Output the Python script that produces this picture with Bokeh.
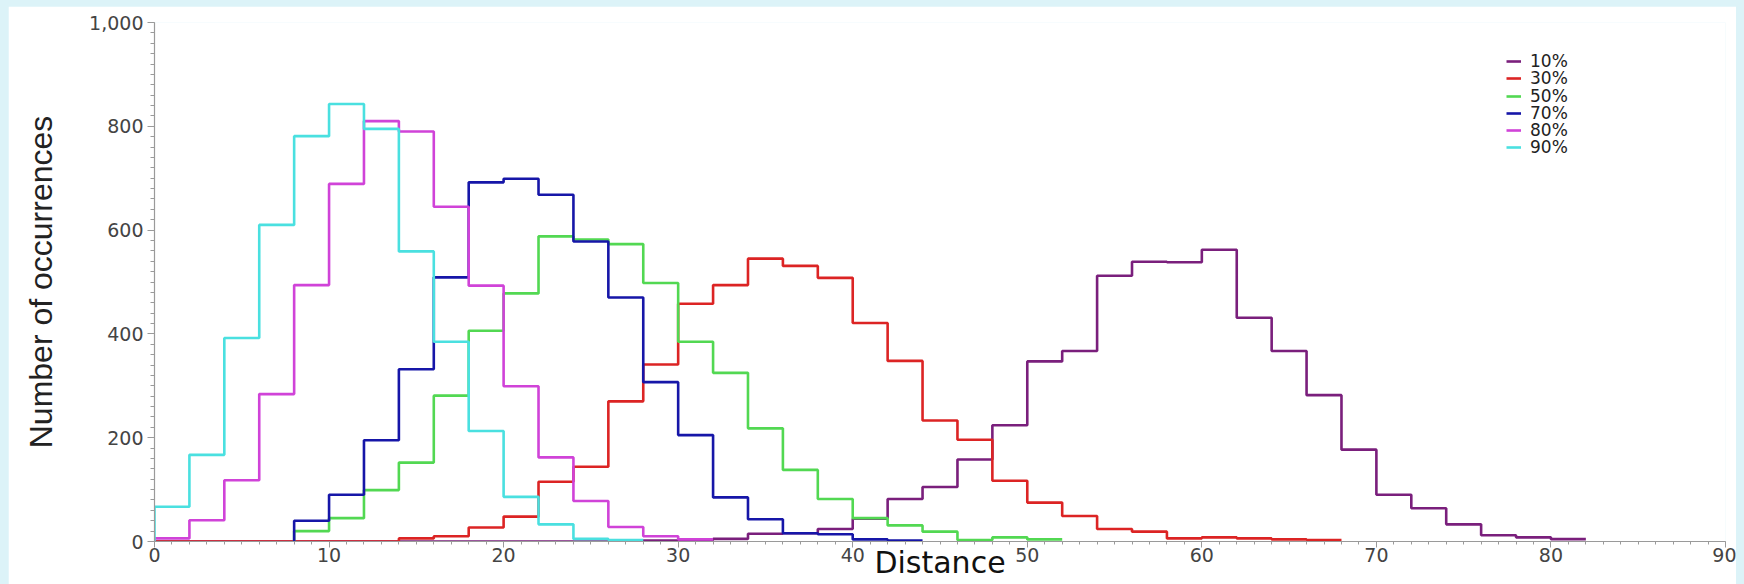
import re

from bokeh.embed import file_html
from bokeh.models import FixedTicker, Legend, LegendItem, NumeralTickFormatter, Range1d
from bokeh.plotting import figure
from bokeh.resources import INLINE

# Histogram counts per distance bin (bin width 2), one list per series
bin_width = 2
series_labels = ["10%", "30%", "50%", "70%", "80%", "90%"]
series_colors = ["#7a1f7c", "#dc2424", "#52d852", "#1616a8", "#d043d8", "#4ae0e0"]

start_10 = 0
counts_10 = [0, 0, 0, 0, 0, 0, 0, 0, 0, 0, 0, 0, 0,
             1, 2, 3, 5, 15, 16, 24, 44, 82, 105, 158, 224, 347, 367,
             512, 539, 538, 562, 431, 367, 282, 177, 90, 64, 33, 12, 8, 4.5]

start_30 = 0
counts_30 = [0, 0, 0, 0, 0, 0, 0,
             6, 10, 27, 48, 115, 144, 270, 341, 458, 494, 545, 531, 508,
             421, 348, 233, 196, 117, 75, 49, 24, 19, 6, 8, 6, 4, 3]

start_50 = 8
counts_50 = [20, 45, 99, 152, 281, 406, 478, 588, 582, 573, 498,
             385, 325, 218, 138, 82, 45, 31, 19, 3, 8, 4]

start_70 = 8
counts_70 = [40, 90, 195, 332, 509, 692, 699, 668, 578, 470, 307,
             205, 85, 43, 16, 14, 4, 2]

start_80 = 0
counts_80 = [6, 41, 118, 284, 494, 689, 810, 790, 645, 493, 299,
             162, 78, 28, 10, 4]

start_90 = 0
counts_90 = [67, 167, 392, 610, 781, 843, 795, 559, 385, 213, 86, 33, 5, 3]

series_starts = [start_10, start_30, start_50, start_70, start_80, start_90]
series_counts = [counts_10, counts_30, counts_50, counts_70, counts_80, counts_90]

x_major = list(range(0, 91, 10))
x_minor = list(range(0, 91, 1))
y_major = list(range(0, 1001, 200))
y_minor = list(range(0, 1001, 20))

BG = "#dcf3f8"
AXIS_GRAY = "#9a9a9a"
TICK_FONT = "DejaVu Sans"

p = figure(
    width=1728, height=578,
    margin=(6, 8, 0, 8),
    x_range=Range1d(0, 90), y_range=Range1d(0, 1000),
    output_backend="svg", toolbar_location=None,
    min_border_left=146, min_border_right=11,
    min_border_top=16, min_border_bottom=43,
    background_fill_color="white", border_fill_color="white",
)
p.outline_line_color = None
p.xgrid.visible = False
p.ygrid.visible = False


def histogram_outline(start, counts):
    """Step outline of a histogram: rise from zero at the first edge,
    then hold each bin's count across its width."""
    xs = [start] + [start + i * bin_width for i in range(len(counts) + 1)]
    ys = [0] + list(counts) + [counts[-1]]
    return xs, ys


renderers = []
for start, counts, color in zip(series_starts, series_counts, series_colors):
    xs, ys = histogram_outline(start, counts)
    r = p.step(xs, ys, mode="after", line_color=color, line_width=2.6)
    renderers.append(r)

# Axes
for ax in (p.xaxis[0], p.yaxis[0]):
    ax.axis_line_color = AXIS_GRAY
    ax.axis_line_width = 1.2
    ax.major_tick_line_color = AXIS_GRAY
    ax.minor_tick_line_color = AXIS_GRAY
    ax.major_tick_in = 0
    ax.minor_tick_in = 0
    ax.major_label_text_font = TICK_FONT
    ax.major_label_text_font_size = "19px"
    ax.major_label_text_color = "#444444"
    ax.axis_label_text_font_style = "normal"

p.xaxis.ticker = FixedTicker(ticks=x_major, minor_ticks=x_minor)
p.xaxis.major_tick_out = 6
p.xaxis.minor_tick_out = 3
p.xaxis.major_label_standoff = 0
p.xaxis.axis_label = "Distance"
p.xaxis.axis_label_text_font = "DejaVu Sans"
p.xaxis.axis_label_text_font_size = "30px"
p.xaxis.axis_label_text_color = "#111111"
p.xaxis.axis_label_standoff = -20

p.yaxis.ticker = FixedTicker(ticks=y_major, minor_ticks=y_minor)
p.yaxis.formatter = NumeralTickFormatter(format="0,0")
p.yaxis.major_tick_out = 7
p.yaxis.minor_tick_out = 4
p.yaxis.major_label_standoff = 4
p.yaxis.axis_label = "Number of occurrences"
p.yaxis.axis_label_text_font = "Liberation Sans"
p.yaxis.axis_label_text_font_size = "32px"
p.yaxis.axis_label_text_color = "#222222"
p.yaxis.axis_label_standoff = 27

# Legend: one single-entry legend per row so rows can sit closer together
# than the text height would otherwise allow.
LEGEND_LEFT = 1352        # px from the left edge of the plot frame
LEGEND_FIRST_ROW = 480    # px from the bottom of the plot frame (row centre)
LEGEND_ROW_STEP = 17.3
LEGEND_FONT_PX = 17
row_box = 20              # approximate rendered height of one entry
for i, (lab, r) in enumerate(zip(series_labels, renderers)):
    centre = LEGEND_FIRST_ROW - i * LEGEND_ROW_STEP
    lg = Legend(
        items=[LegendItem(label=lab, renderers=[r])],
        location=(LEGEND_LEFT, int(round(centre - row_box / 2))),
        orientation="vertical",
        padding=0, spacing=0, margin=0,
        glyph_width=15, glyph_height=row_box, label_height=row_box,
        label_standoff=9,
        label_text_font=TICK_FONT, label_text_font_size="%dpx" % LEGEND_FONT_PX,
        label_text_color="#222222",
        border_line_color=None, background_fill_alpha=0,
    )
    p.add_layout(lg)

html = file_html(p, INLINE)
page_style = "<style>html, body { margin: 0; padding: 0; background-color: %s; }</style>" % BG
html = html.replace("</head>", page_style + "</head>", 1)
html = re.sub(r"<body([^>]*)>",
              r'<body\1 style="margin:0;background-color:%s">' % BG, html, count=1)
open("out.html", "w").write(html)
